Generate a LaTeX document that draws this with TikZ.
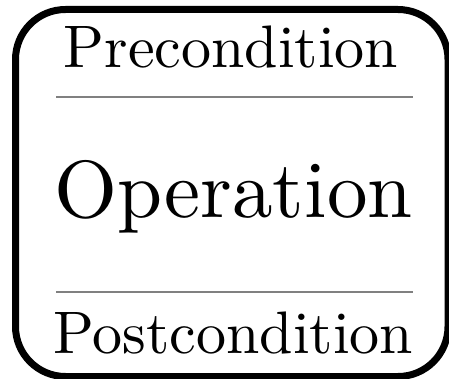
\documentclass[tikz,border=0pt]{standalone}
\usepackage{fontspec}
% ten-point design of Latin Modern, scaled up
\newfontfamily\lmten{lmroman10-regular}[Extension=.otf]
\begin{document}
\begin{tikzpicture}[x=1pt,y=1pt,
  frame/.style={draw=black, line width=7pt, rounded corners=50pt},
  divider/.style={draw=black!50, line width=1.8pt},
  label/.style={inner sep=0pt, anchor=base, font=\lmten\fontsize{60}{72}\selectfont},
  title/.style={inner sep=0pt, anchor=base, font=\lmten\fontsize{81}{96}\selectfont}]
  \useasboundingbox (0,0) rectangle (449,-379);
  % outer rounded box
  \draw[frame] (15.5,-9.5) rectangle (448,-376.5);
  % compartments
  \node[label] (pre)  at (231,-68)  {Precondition};
  \node[title] (op)   at (233.5,-218) {Operation};
  \node[label] (post) at (233.5,-353) {Postcondition};
  % separators
  \coordinate (d1l) at (56,-97);  \coordinate (d1r) at (413,-97);
  \coordinate (d2l) at (56,-292); \coordinate (d2r) at (413,-292);
  \draw[divider] (d1l) -- (d1r);
  \draw[divider] (d2l) -- (d2r);
\end{tikzpicture}
\end{document}
